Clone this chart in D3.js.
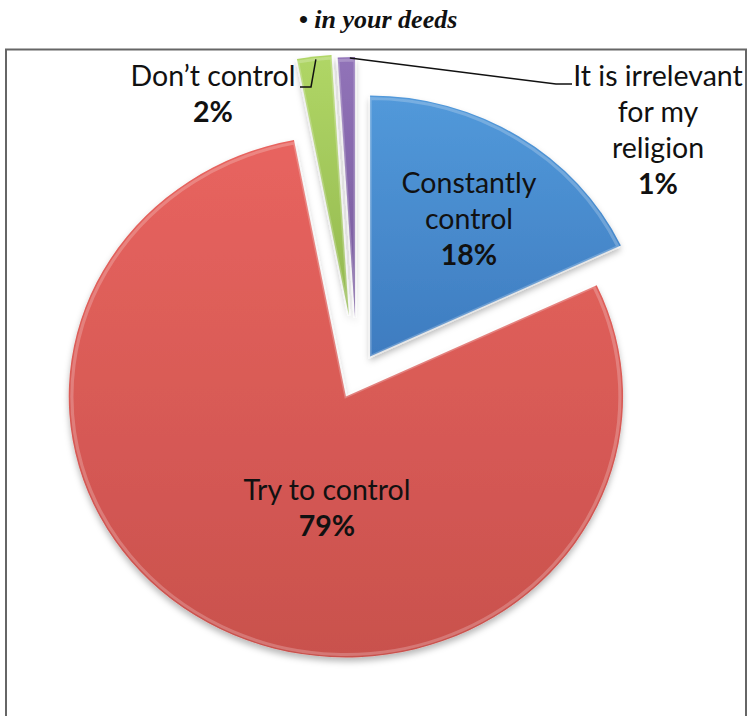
<!DOCTYPE html>
<html>
<head>
<meta charset="utf-8">
<script src="https://cdn.jsdelivr.net/npm/d3@7"></script>
<style>
  html, body { margin: 0; padding: 0; background: #fff; }
  svg { display: block; }
</style>
</head>
<body>
<script>
// Answers to "• in your deeds"
const categories = ["Constantly control", "Try to control", "Don’t control", "It is irrelevant for my religion"];
const values = [18, 79, 2, 1];
const labelLines = [["Constantly", "control"], ["Try to control"], ["Don’t control"], ["It is irrelevant", "for my", "religion"]];
const valueLabels = ["18%", "79%", "2%", "1%"];
const colors = [
  ["#5299da", "#3e7cc0"],
  ["#e8645f", "#c9514d"],
  ["#b0d666", "#93b84f"],
  ["#9173b8", "#77599c"]
];
const titleText = "• in your deeds";

const W = 751, H = 716;
const svg = d3.select("body").append("svg").attr("width", W).attr("height", H);
const defs = svg.append("defs");

// soft drop shadow under the slices
const sh = defs.append("filter").attr("id", "shadow")
  .attr("x", "-10%").attr("y", "-10%").attr("width", "120%").attr("height", "125%");
sh.append("feDropShadow").attr("dx", 0).attr("dy", 4).attr("stdDeviation", 3)
  .attr("flood-color", "#000").attr("flood-opacity", 0.28);

colors.forEach((c, i) => {
  const g = defs.append("linearGradient").attr("id", "grad" + i)
    .attr("x1", 0).attr("y1", 0).attr("x2", 0).attr("y2", 1);
  g.append("stop").attr("offset", "0%").attr("stop-color", c[0]);
  g.append("stop").attr("offset", "100%").attr("stop-color", c[1]);
});

// title
svg.append("text").attr("x", 378).attr("y", 28)
  .attr("text-anchor", "middle")
  .style("font-family", "'Liberation Serif', serif")
  .style("font-style", "italic").style("font-weight", "bold")
  .style("font-size", "26px").attr("fill", "#111")
  .text(titleText);

// frame
svg.append("rect").attr("x", 6).attr("y", 49.5).attr("width", 740).attr("height", 720)
  .attr("fill", "#fff").attr("stroke", "#666").attr("stroke-width", 2);

// pie geometry
const R = 261, sx = 1.062;
const cx = 357, cy = 376;
const explode = [23, 23, 61, 58];

const pie = d3.pie().sort(null).value(d => d)(values);
const arc = d3.arc().innerRadius(0).outerRadius(R);
const innerArc = d3.arc().innerRadius(0).outerRadius(R - 3);

const offset = (d, i) => {
  const m = (d.startAngle + d.endAngle) / 2;
  return [cx + sx * explode[i] * Math.sin(m), cy - explode[i] * Math.cos(m)];
};

const slices = svg.append("g").attr("filter", "url(#shadow)")
  .selectAll("g").data(pie).join("g")
  .attr("transform", (d, i) => {
    const [x, y] = offset(d, i);
    return `translate(${x},${y}) scale(${sx},1)`;
  });

slices.append("path").attr("d", arc).attr("fill", (d, i) => `url(#grad${i})`);
// light bevel rim
slices.append("path").attr("d", innerArc)
  .attr("fill", "none").attr("stroke", "rgba(255,255,255,0.22)").attr("stroke-width", 3);

const font = "Lato, 'Noto Sans', sans-serif";
const fs = 28.5, lh = 36;

function drawLabel(lines, pct, x, yTop) {
  const t = svg.append("text").attr("text-anchor", "middle")
    .style("font-family", font).style("font-size", fs + "px").attr("fill", "#111");
  lines.forEach((s, k) => t.append("tspan").attr("x", x).attr("y", yTop + k * lh).text(s));
  t.append("tspan").attr("x", x).attr("y", yTop + lines.length * lh)
    .style("font-weight", "bold").text(pct);
}

// inside labels, placed along a direction from the slice apex
const inside = { 0: { a: 34.2, f: 0.635 }, 1: { a: 189, f: 0.437 } };
Object.entries(inside).forEach(([k, p]) => {
  const i = +k, d = pie[i];
  const [ox, oy] = offset(d, i);
  const a = p.a * Math.PI / 180;
  const x = ox + sx * p.f * R * Math.sin(a);
  const y = oy - p.f * R * Math.cos(a);
  const n = labelLines[i].length + 1;
  drawLabel(labelLines[i], valueLabels[i], x, y - (n - 1) * lh / 2 + 9);
});

// outside labels with leader lines
function edgePoint(i, frac) {
  const d = pie[i];
  const [ox, oy] = offset(d, i);
  const a = d.startAngle + (d.endAngle - d.startAngle) * frac;
  return [ox + sx * R * Math.sin(a), oy - R * Math.cos(a)];
}

const g2 = edgePoint(2, 0.55);
drawLabel(labelLines[2], valueLabels[2], 213, 86);
svg.append("path").attr("fill", "none").attr("stroke", "#111").attr("stroke-width", 1.5)
  .attr("d", d3.line()([[300, 87], [311, 87], [g2[0], g2[1] + 3]]));

const g3 = edgePoint(3, 0.7);
drawLabel(labelLines[3], valueLabels[3], 658, 86);
svg.append("path").attr("fill", "none").attr("stroke", "#111").attr("stroke-width", 1.5)
  .attr("d", d3.line()([[g3[0], g3[1] + 1], [556, 84], [572, 84]]));
</script>
</body>
</html>
